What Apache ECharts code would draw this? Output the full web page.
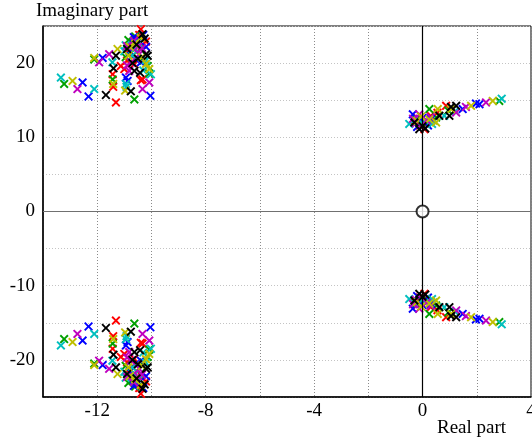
<!DOCTYPE html>
<html>
<head>
<meta charset="utf-8">
<script src="https://cdn.jsdelivr.net/npm/echarts@6/dist/echarts.min.js"></script>
<style>
html,body{margin:0;padding:0;background:#fff;}
#chart{width:532px;height:441px;}
</style>
</head>
<body>
<div id="chart"></div>
<script>
// x tick labels shown every 4 units, grid every 2
const xTickLabels = [-12, -8, -4, 0, 4];
const yTickLabels = [-20, -10, 0, 10, 20];
const xTitle = 'Real part';
const yTitle = 'Imaginary part';

// Poles (real, imaginary) per colour: upper-left, upper-right, lower-left, lower-right
const redPoles = [
  [-10.39,24.56],[-10.45,23.8],[-10.33,22.5],[-10.55,21.5],[-11.13,19.6],[-10.63,19.85],[-11.0,19.2],[-11.43,18.5],[-10.33,17.8],[-10.39,17.7],[-11.41,16.8],[-11.31,14.7],[-10.8,21.2],[-10.2,22.9],[-10.9,20.3],
  [-0.30,12.2],[0.07,11.1],[-0.1,11.6],[0.3,12.9],[0.55,13.3],[0.87,14.24],[0.15,11.8],[-0.2,12.6],
  [-10.39,-24.56],[-10.45,-23.8],[-10.33,-22.5],[-10.55,-21.5],[-11.13,-19.6],[-10.63,-19.85],[-11.0,-19.2],[-11.43,-18.5],[-10.33,-17.8],[-10.39,-17.7],[-11.41,-16.8],[-11.31,-14.7],[-10.8,-21.2],[-10.2,-22.9],[-10.9,-20.3],
  [-0.30,-12.2],[0.07,-11.1],[-0.1,-11.6],[0.3,-12.9],[0.55,-13.3],[0.87,-14.24],[0.15,-11.8],[-0.2,-12.6]
];
const greenPoles = [
  [-13.22,17.2],[-12.11,20.5],[-10.63,15.1],[-11.43,17.8],[-10.14,19.6],[-10.76,22.8],[-10.6,23.6],[-10.95,20.8],[-10.4,21.8],[-10.08,18.6],[-10.5,22.9],[-10.85,23.1],[-10.3,20.3],
  [0.25,13.8],[0.50,12.67],[2.83,14.9],[-0.25,12.5],[0.95,13.6],[0.15,11.9],[-0.05,12.1],[0.4,12.3],
  [-13.22,-17.2],[-12.11,-20.5],[-10.63,-15.1],[-11.43,-17.8],[-10.14,-19.6],[-10.76,-22.8],[-10.6,-23.6],[-10.95,-20.8],[-10.4,-21.8],[-10.08,-18.6],[-10.5,-22.9],[-10.85,-23.1],[-10.3,-20.3],
  [0.25,-13.8],[0.50,-12.67],[2.83,-14.9],[-0.25,-12.5],[0.95,-13.6],[0.15,-11.9],[-0.05,-12.1],[0.4,-12.3]
];
const bluePoles = [
  [-12.54,17.4],[-12.32,15.5],[-11.8,20.7],[-10.51,23.2],[-10.70,22.1],[-10.39,20.1],[-10.94,18.05],[-10.88,17.6],[-10.04,15.6],[-10.3,23.8],[-10.6,20.6],[-10.65,23.5],[-10.2,22.2],[-10.8,21.6],
  [-0.36,13.1],[0.07,12.0],[0.31,12.45],[1.48,13.8],[2.10,14.47],[1.97,14.55],[-0.2,11.4],[0.2,11.6],[0.0,12.6],
  [-12.54,-17.4],[-12.32,-15.5],[-11.8,-20.7],[-10.51,-23.2],[-10.70,-22.1],[-10.39,-20.1],[-10.94,-18.05],[-10.88,-17.6],[-10.04,-15.6],[-10.3,-23.8],[-10.6,-20.6],[-10.65,-23.5],[-10.2,-22.2],[-10.8,-21.6],
  [-0.36,-13.1],[0.07,-12.0],[0.31,-12.45],[1.48,-13.8],[2.10,-14.47],[1.97,-14.55],[-0.2,-11.4],[0.2,-11.6],[0.0,-12.6]
];
const cyanPoles = [
  [-13.34,18.05],[-12.11,16.5],[-11.44,20.1],[-11.0,21.6],[-10.02,18.5],[-10.94,17.2],[-10.92,16.8],[-10.7,21.0],[-10.45,22.6],[-10.2,20.4],[-10.95,22.4],[-10.6,21.9],[-10.3,19.0],
  [-0.49,11.8],[0.80,12.9],[2.92,15.2],[-0.15,12.4],[0.35,11.8],[1.2,13.5],[0.1,12.2],[-0.3,11.9],
  [-13.34,-18.05],[-12.11,-16.5],[-11.44,-20.1],[-11.0,-21.6],[-10.02,-18.5],[-10.94,-17.2],[-10.92,-16.8],[-10.7,-21.0],[-10.45,-22.6],[-10.2,-20.4],[-10.95,-22.4],[-10.6,-21.9],[-10.3,-19.0],
  [-0.49,-11.8],[0.80,-12.9],[2.92,-15.2],[-0.15,-12.4],[0.35,-11.8],[1.2,-13.5],[0.1,-12.2],[-0.3,-11.9]
];
const magentaPoles = [
  [-12.73,16.5],[-11.93,20.1],[-11.56,21.2],[-10.45,21.2],[-10.82,18.95],[-10.08,17.4],[-10.33,16.5],[-10.75,20.1],[-10.5,22.2],[-10.9,22.3],[-10.65,23.0],[-10.35,22.0],[-10.9,19.7],
  [-0.12,13.1],[1.24,13.34],[2.34,14.7],[-0.35,12.5],[0.15,12.3],[1.6,14.1],[-0.25,11.9],[0.3,12.7],
  [-12.73,-16.5],[-11.93,-20.1],[-11.56,-21.2],[-10.45,-21.2],[-10.82,-18.95],[-10.08,-17.4],[-10.33,-16.5],[-10.75,-20.1],[-10.5,-22.2],[-10.9,-22.3],[-10.65,-23.0],[-10.35,-22.0],[-10.9,-19.7],
  [-0.12,-13.1],[1.24,-13.34],[2.34,-14.7],[-0.35,-12.5],[0.15,-12.3],[1.6,-14.1],[-0.25,-11.9],[0.3,-12.7]
];
const yellowPoles = [
  [-12.91,17.6],[-12.11,20.7],[-11.25,21.9],[-11.41,17.2],[-10.97,16.3],[-10.08,19.2],[-10.85,21.0],[-10.6,22.6],[-10.35,20.8],[-10.8,22.2],[-10.4,23.4],[-10.2,19.9],
  [0.56,13.8],[0.50,12.0],[1.05,13.8],[1.79,14.24],[2.59,14.9],[-0.05,12.8],[0.25,12.4],[-0.2,12.2],
  [-12.91,-17.6],[-12.11,-20.7],[-11.25,-21.9],[-11.41,-17.2],[-10.97,-16.3],[-10.08,-19.2],[-10.85,-21.0],[-10.6,-22.6],[-10.35,-20.8],[-10.8,-22.2],[-10.4,-23.4],[-10.2,-19.9],
  [0.56,-13.8],[0.50,-12.0],[1.05,-13.8],[1.79,-14.24],[2.59,-14.9],[-0.05,-12.8],[0.25,-12.4],[-0.2,-12.2]
];
const blackPoles = [
  [-11.68,15.7],[-11.31,21.0],[-11.40,19.3],[-10.76,16.2],[-10.63,18.95],[-10.42,18.7],[-10.20,21.2],[-10.33,23.9],[-10.25,23.3],[-10.14,21.0],[-10.7,20.0],[-10.55,22.5],[-10.9,21.9],[-10.5,20.6],
  [-0.12,11.1],[0.62,12.9],[0.99,12.9],[1.24,14.24],[1.05,14.1],[0.0,11.5],[0.1,11.2],[-0.3,12.0],
  [-11.68,-15.7],[-11.31,-21.0],[-11.40,-19.3],[-10.76,-16.2],[-10.63,-18.95],[-10.42,-18.7],[-10.20,-21.2],[-10.33,-23.9],[-10.25,-23.3],[-10.14,-21.0],[-10.7,-20.0],[-10.55,-22.5],[-10.9,-21.9],[-10.5,-20.6],
  [-0.12,-11.1],[0.62,-12.9],[0.99,-12.9],[1.24,-14.24],[1.05,-14.1],[0.0,-11.5],[0.1,-11.2],[-0.3,-12.0]
];
const zeros = [[0, 0]];

const poleSets = [
  {name: 'r', color: '#ff0000', data: redPoles},
  {name: 'g', color: '#00a000', data: greenPoles},
  {name: 'b', color: '#0000ff', data: bluePoles},
  {name: 'c', color: '#00bfbf', data: cyanPoles},
  {name: 'm', color: '#bf00bf', data: magentaPoles},
  {name: 'y', color: '#bfbf00', data: yellowPoles},
  {name: 'k', color: '#000000', data: blackPoles}
];

const xMark = 'path://M0,1.5L1.5,0L5,3.5L8.5,0L10,1.5L6.5,5L10,8.5L8.5,10L5,6.5L1.5,10L0,8.5L3.5,5Z';
const FONT = 'Liberation Serif';
const FS = 19;

const chart = echarts.init(document.getElementById('chart'), null, {renderer: 'canvas'});

const series = [
  {
    type: 'scatter', data: [], z: 1, silent: true,
    markLine: {
      silent: true, symbol: 'none', animation: false,
      label: {show: false},
      data: [
        {yAxis: 0, lineStyle: {color: '#707070', width: 1, type: 'solid'}},
        {xAxis: 0, lineStyle: {color: '#000000', width: 1.2, type: 'solid'}}
      ]
    }
  }
];
poleSets.forEach(s => {
  series.push({
    type: 'scatter', name: s.name, data: s.data, z: 3,
    symbol: xMark, symbolSize: 9,
    itemStyle: {color: s.color, opacity: 1},
    emphasis: {disabled: true}
  });
});
series.push({
  type: 'scatter', data: zeros, z: 5,
  symbol: 'circle', symbolSize: 12,
  itemStyle: {color: '#ffffff', borderColor: '#000000', borderWidth: 2}
});

chart.setOption({
  animation: false,
  backgroundColor: '#ffffff',
  grid: {left: 43, right: 1, top: 26, bottom: 44, show: true, borderColor: '#000', borderWidth: 1, backgroundColor: 'transparent', outerBoundsMode: 'none', containLabel: false},
  xAxis: {
    type: 'value', min: -14, max: 4, interval: 2,
    axisLine: {show: true, onZero: false, lineStyle: {color: '#000', width: 1.5}},
    axisTick: {show: false},
    axisLabel: {
      color: '#000', fontFamily: FONT, fontSize: FS, margin: 5,
      formatter: v => xTickLabels.indexOf(v) >= 0 ? String(v) : ''
    },
    splitLine: {show: true, lineStyle: {color: '#8a8a8a', type: [1, 2], width: 1}}
  },
  yAxis: {
    type: 'value', min: -25, max: 25, interval: 5,
    axisLine: {show: true, onZero: false, lineStyle: {color: '#000', width: 1.5}},
    axisTick: {show: false},
    axisLabel: {
      color: '#000', fontFamily: FONT, fontSize: FS, margin: 8,
      formatter: v => yTickLabels.indexOf(v) >= 0 ? String(v) : ''
    },
    splitLine: {show: true, lineStyle: {color: '#c4c4c4', type: [1, 2], width: 1}}
  },
  graphic: [
    {type: 'text', left: 36, top: 2, style: {text: yTitle, fontFamily: FONT, fontSize: FS, fill: '#000'}},
    {type: 'text', left: 437, top: 419, style: {text: xTitle, fontFamily: FONT, fontSize: FS, fill: '#000'}}
  ],
  series: series
});
</script>
</body>
</html>
